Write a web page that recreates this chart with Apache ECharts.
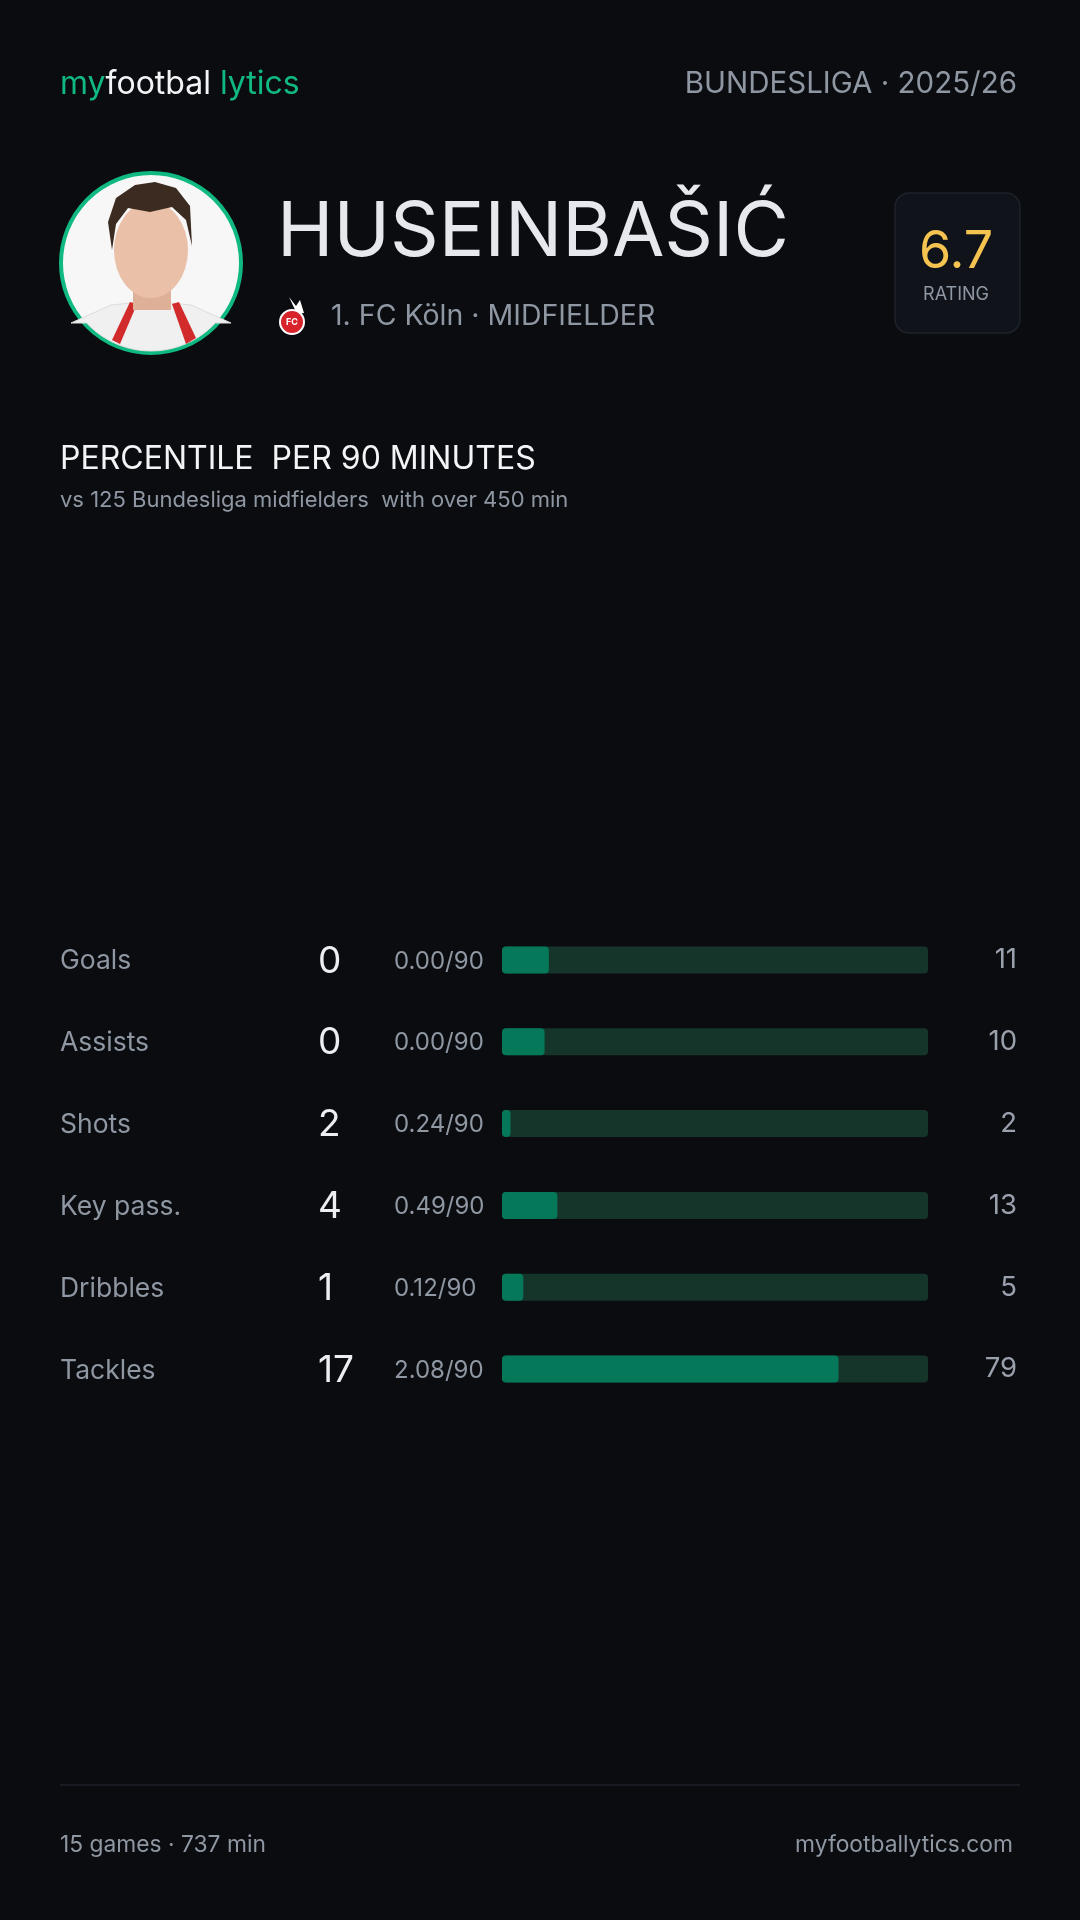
<!DOCTYPE html>
<html>
<head>
<meta charset="utf-8">
<script src="https://cdn.jsdelivr.net/npm/echarts@6/dist/echarts.min.js"></script>
<style>
html,body{margin:0;padding:0;background:#0a0c10;}
#c{width:1080px;height:1920px;}
</style>
</head>
<body>
<div id="c"></div>
<script>
// ---- data ----
const statLabels = ['Goals', 'Assists', 'Shots', 'Key pass.', 'Dribbles', 'Tackles'];
const statTotals = [0, 0, 2, 4, 1, 17];
const statPer90 = ['0.00/90', '0.00/90', '0.24/90', '0.49/90', '0.12/90', '2.08/90'];
const percentiles = [11, 10, 2, 13, 5, 79];
const playerName = 'HUSEINBAŠIĆ';
const clubLine = '1. FC Köln · MIDFIELDER';
const competition = 'BUNDESLIGA · 2025/26';
const rating = '6.7';
const sectionTitle = 'PERCENTILE  PER 90 MINUTES';
const sectionSub = 'vs 125 Bundesliga midfielders  with over 450 min';
const footerLeft = '15 games · 737 min';
const footerRight = 'myfootballytics.com';

const FONT = 'Inter, "Noto Sans", sans-serif';
const GRAY = '#8f97a3';
const WHITE = '#eceef2';
const GREEN = '#10b981';

// decorative avatar shoulder shape: points along the bottom of the avatar circle
function shoulderPoints(cx, cy, r) {
  const pts = [[cx - 80, cy + 60], [cx - 40, cy + 42], [cx, cy + 38], [cx + 40, cy + 42], [cx + 80, cy + 60]];
  const arc = [];
  const a0 = Math.asin(60 / r);
  for (let k = 0; k <= 20; k++) {
    const a = a0 + (Math.PI - 2 * a0) * k / 20;
    arc.push([cx + r * Math.cos(a), cy + r * Math.sin(a)]);
  }
  return pts.concat(arc);
}

const chart = echarts.init(document.getElementById('c'), null, {renderer: 'canvas'});

const option = {
  backgroundColor: '#0a0c10',
  animation: false,
  textStyle: {fontFamily: FONT},
  grid: {left: 502, right: 152, top: 919, height: 491, containLabel: false},
  xAxis: {type: 'value', min: 0, max: 100, show: false},
  yAxis: [
    {
      type: 'category',
      inverse: true,
      data: statLabels,
      axisLine: {show: false},
      axisTick: {show: false},
      splitLine: {show: false},
      axisLabel: {
        align: 'left',
        margin: 442,
        formatter: function (v, i) {
          return '{lab|' + statLabels[i] + '}{val|' + statTotals[i] + '}{p90|' + statPer90[i] + '}';
        },
        rich: {
          lab: {width: 258, fontSize: 26.5, color: GRAY, fontFamily: FONT, padding: [3, 0, 0, 0]},
          val: {width: 76, fontSize: 37, color: WHITE, fontFamily: FONT, padding: [3, 0, 0, 0]},
          p90: {fontSize: 24, color: GRAY, fontFamily: FONT, padding: [3, 0, 0, 0]}
        }
      }
    },
    {
      type: 'category',
      inverse: true,
      position: 'right',
      data: percentiles.map(String),
      axisLine: {show: false},
      axisTick: {show: false},
      splitLine: {show: false},
      axisLabel: {
        align: 'right',
        margin: 89,
        fontSize: 27.5,
        color: '#9aa1ad',
        fontFamily: FONT,
        padding: [3, 0, 0, 0]
      }
    }
  ],
  series: [{
    type: 'bar',
    yAxisIndex: 0,
    data: percentiles,
    barWidth: 27,
    itemStyle: {color: '#06785a', borderRadius: 4},
    showBackground: true,
    backgroundStyle: {color: '#15352b', borderRadius: 4}
  }],
  graphic: [
    // header logo
    {type: 'text', x: 60, y: 84, style: {
      text: '{a|my}{b|footbal}{a| lytics}', fontFamily: FONT, fontSize: 32, verticalAlign: 'middle', align: 'left',
      rich: {a: {fontSize: 32, fill: GREEN, fontFamily: FONT}, b: {fontSize: 32, fill: '#f3f4f6', fontFamily: FONT}}
    }},
    {type: 'text', x: 1017, y: 84, style: {
      text: competition, fontSize: 29.5, fill: GRAY, fontFamily: FONT, align: 'right', verticalAlign: 'middle'
    }},
    // avatar
    {type: 'circle', shape: {cx: 151, cy: 263, r: 90}, style: {fill: '#f7f7f7', stroke: GREEN, lineWidth: 4}},
    {type: 'polygon', shape: {points: shoulderPoints(151, 263, 88)}, style: {fill: '#f0f0f0', stroke: '#dddddd', lineWidth: 1}},
    {type: 'polygon', shape: {points: [[112, 340], [130, 302], [137, 304], [120, 344]]}, style: {fill: '#d22b2b'}},
    {type: 'polygon', shape: {points: [[186, 344], [172, 304], [179, 302], [196, 338]]}, style: {fill: '#d22b2b'}},
    {type: 'rect', shape: {x: 133, y: 272, width: 38, height: 38}, style: {fill: '#ddb097'}},
    {type: 'circle', x: 151, y: 250, scaleY: 1.3, shape: {cx: 0, cy: 0, r: 37}, style: {fill: '#eac0a8'}},
    {type: 'polygon', shape: {points: [[112, 250], [108, 222], [116, 198], [135, 185], [155, 182], [176, 188], [190, 206], [192, 246], [186, 220], [172, 207], [150, 212], [128, 208], [116, 224]]}, style: {fill: '#3b2b20'}},
    // club badge
    {type: 'polygon', shape: {points: [[289, 297], [296, 306], [300, 300], [304, 313], [297, 314]]}, style: {fill: '#ffffff'}},
    {type: 'circle', shape: {cx: 292, cy: 322, r: 12}, style: {fill: '#d8232a', stroke: '#ffffff', lineWidth: 2}},
    {type: 'text', x: 292, y: 322, style: {text: 'FC', fontSize: 9, fill: '#ffffff', fontWeight: 'bold', fontFamily: FONT, align: 'center', verticalAlign: 'middle'}},
    // name
    {type: 'text', x: 277, y: 233, style: {
      text: playerName, fontSize: 76, fill: '#e6e8ee', fontFamily: FONT, align: 'left', verticalAlign: 'middle'
    }},
    {type: 'text', x: 331, y: 316, style: {
      text: clubLine, fontSize: 28.5, fill: GRAY, fontFamily: FONT, align: 'left', verticalAlign: 'middle'
    }},
    // rating box
    {type: 'rect', shape: {x: 895, y: 193, width: 125, height: 140, r: 14}, style: {fill: '#10131a', stroke: '#1e222a', lineWidth: 1.5}},
    {type: 'text', x: 956, y: 252, style: {text: rating, fontSize: 52, fill: '#f5c350', fontFamily: FONT, align: 'center', verticalAlign: 'middle'}},
    {type: 'text', x: 956, y: 295, style: {text: 'RATING', fontSize: 18, fill: GRAY, fontFamily: FONT, align: 'center', verticalAlign: 'middle'}},
    // section title
    {type: 'text', x: 60, y: 459, style: {text: sectionTitle, fontSize: 32, fill: '#f3f4f6', fontFamily: FONT, align: 'left', verticalAlign: 'middle'}},
    {type: 'text', x: 60, y: 500, style: {text: sectionSub, fontSize: 22, fill: GRAY, fontFamily: FONT, align: 'left', verticalAlign: 'middle'}},
    // footer
    {type: 'line', shape: {x1: 60, y1: 1785, x2: 1020, y2: 1785}, style: {stroke: '#1d2027', lineWidth: 1.5}},
    {type: 'text', x: 60, y: 1845, style: {text: footerLeft, fontSize: 22.8, fill: GRAY, fontFamily: FONT, align: 'left', verticalAlign: 'middle'}},
    {type: 'text', x: 1013, y: 1845, style: {text: footerRight, fontSize: 22.8, fill: GRAY, fontFamily: FONT, align: 'right', verticalAlign: 'middle'}}
  ]
};
chart.setOption(option);
</script>
</body>
</html>
